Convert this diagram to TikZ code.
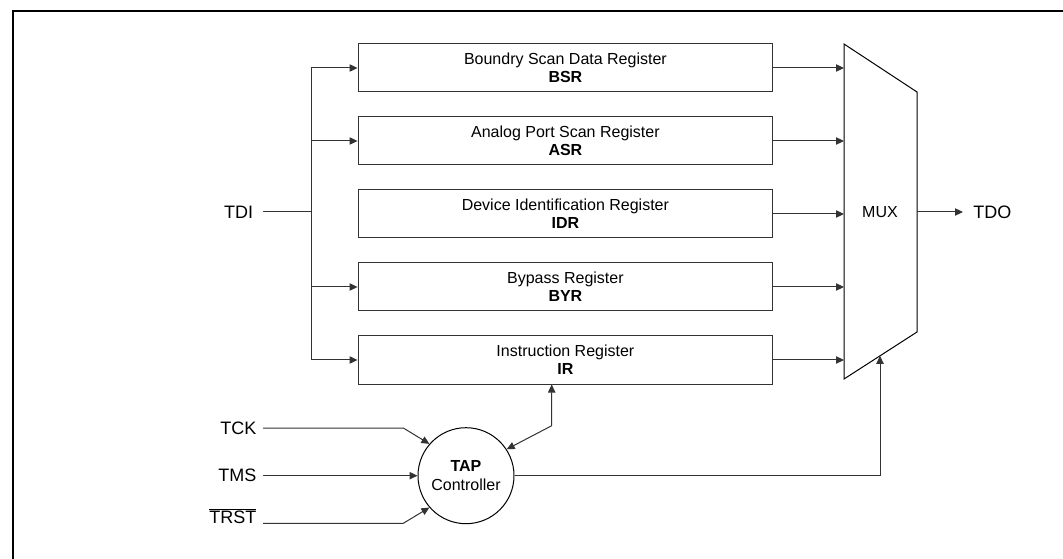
\documentclass[tikz,border=0pt]{standalone}
\usepackage{fontspec}
\setmainfont{Liberation Sans}
\usetikzlibrary{arrows.meta,positioning}

\tikzset{
  reg/.style={draw=black!80, line width=0.75pt, minimum width=311pt, minimum height=36pt,
    inner sep=0pt, align=center, font=\fontsize{12}{13.5}\selectfont},
  wire/.style={draw=black!80, line width=0.75pt},
  pin/.style={inner xsep=4.7pt, inner ysep=0pt, font=\fontsize{13.5}{16}\selectfont},
}

\begin{document}
\begin{tikzpicture}[x=0.75pt, y=-0.75pt, >={Triangle[length=6pt,width=5.5pt]}]
	\useasboundingbox (0,0) rectangle (1063,559);
	% Rahmen
	\draw[line width=1.5pt] (12.7,559) -- (12.7,11) -- (1063,11);

	% Register
	\node[reg] (bsr) at (565.4,68) {Boundry Scan Data Register\\\textbf{BSR}};
	\node[reg, below=18pt of bsr] (asr) {Analog Port Scan Register\\\textbf{ASR}};
	\node[reg, below=18pt of asr] (idr) {Device Identification Register\\\textbf{IDR}};
	\node[reg, below=18pt of idr] (byr) {Bypass Register\\\textbf{BYR}};
	\node[reg, below=18pt of byr] (ir) {Instruction Register\\\textbf{IR}};

	% MUX
	\coordinate (muxtl) at (844,44);
	\coordinate (muxtr) at (917,92);
	\coordinate (muxbr) at (917,332);
	\coordinate (muxbl) at (844,379);
	\draw[wire, draw=black] (muxtl) -- (muxtr) -- (muxbr) -- (muxbl) -- cycle;
	\node[font=\fontsize{12}{14}\selectfont] (muxlabel) at (880,212) {MUX};
	\coordinate (muxout) at (917,212);
	\coordinate (muxsel) at (880,355.8);

	% TAP Controller
	\node[draw, line width=0.75pt, circle, minimum size=72pt, inner sep=0pt, align=center,
		font=\fontsize{12}{14.5}\selectfont] (tap) at (466,475.7) {\textbf{TAP}\\Controller};

	% Anschluesse
	\node[pin, anchor=east, inner xsep=7.3pt] (tdi) at (263,212) {TDI};
	\node[pin, anchor=west, inner xsep=7.5pt] (tdo) at (963,212) {TDO};
	\node[pin, anchor=east] (tck) at (263,428) {TCK};
	\node[pin, anchor=east] (tms) at (263,475.7) {TMS};
	\node[pin, anchor=east] (trst) at (263,523.3) {$\smash{\overline{\mbox{TRST}}}$};

	% TDI Verteilung
	\coordinate (split) at (311,212);
	\draw[wire] (tdi.east) -- (split);
	\draw[wire] (split |- bsr.west) -- (split |- ir.west);
	\foreach \r in {bsr,asr,byr,ir}
		\draw[wire, ->] (split |- \r.west) -- (\r.west);

	% Register zum MUX
	\foreach \r in {bsr,asr,idr,byr,ir}
		\draw[wire, ->] (\r.east) -- (\r.east -| muxtl);
	\draw[wire, ->] (muxout) -- (tdo.west);

	% Steuerleitungen
	\draw[wire, ->] (tck.east) -- ++(140.3,0) -- (tap.139);
	\draw[wire, ->] (tms.east) -- (tap.west);
	\draw[wire, ->] (trst.east) -- ++(140.3,0) -- (tap.221);
	\coordinate (irbend) at (551.7,425.7);
	\draw[wire, <->] (tap.33) -- (irbend) -- (irbend |- ir.south);
	\draw[wire, ->] (tap.east) -| (muxsel);
\end{tikzpicture}
\end{document}
